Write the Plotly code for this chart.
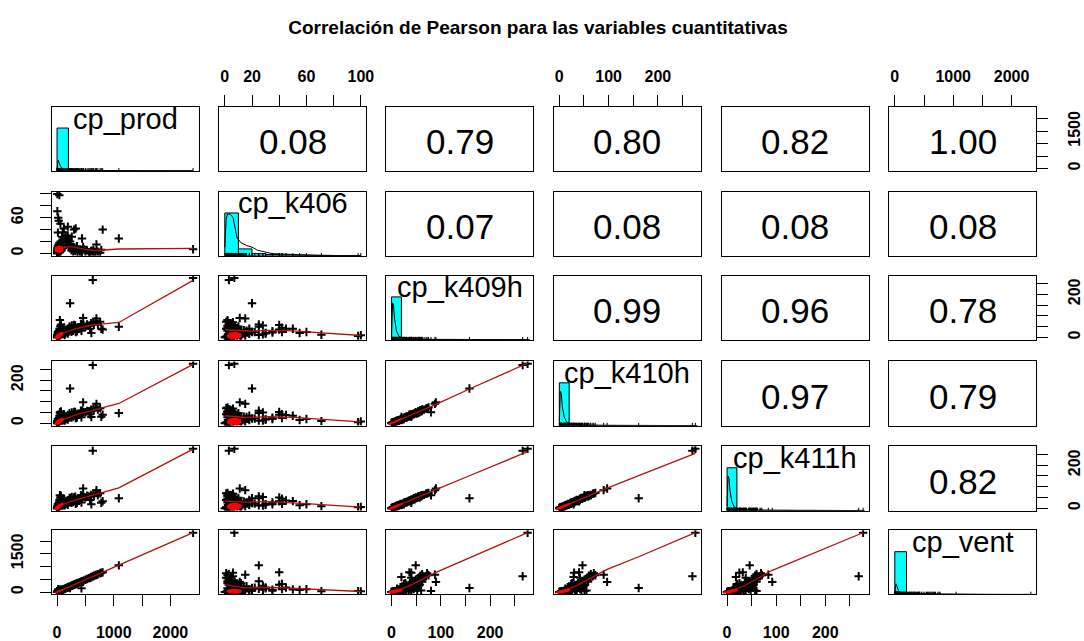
import numpy as np
import plotly.graph_objects as go

# ---------------------------------------------------------------------------
# Data: one list per variable, same record order in every list
# ---------------------------------------------------------------------------
var_names = ["cp_prod", "cp_k406", "cp_k409h", "cp_k410h", "cp_k411h", "cp_vent"]

cp_prod = [
    # low-volume records
    0, 2, 4, 5, 7, 8, 10, 12, 14, 15, 18, 20, 22, 24, 26, 28, 30, 33, 36, 40,
    43, 46, 50, 54, 58, 62, 66, 70, 75, 80,
    # medium records
    90, 100, 110, 120, 135, 150, 160, 175, 190, 205, 220, 240, 255, 270, 285,
    300, 320, 340, 360, 380, 400, 420, 440, 470, 500, 530, 560, 600, 640, 680,
    720, 760, 430, 190, 260, 350, 580, 650,
    # atypical records
    2400, 630, 230, 1090, 805, 780, 695, 460, 605, 5, 40, 5, 20, 30, 60, 300,
    330, 15, 440,
]
cp_k406 = [
    0, 1, 3, 6, 2, 9, 4, 1, 7, 12, 3, 5, 10, 2, 8, 15, 4, 6, 11, 3,
    18, 7, 2, 13, 5, 9, 20, 4, 14, 6,
    28, 35, 18, 42, 25, 30, 14, 22, 30, 12, 10, 16, 5, 10, 3,
    8, 4, 9, 2, 6, 3, 5, 2, 7, 3, 5, 2, 4, 6, 2,
    3, 1, 2, 45, 28, 12, 1, 3,
    7, 3, 20, 25, 40, 6, 15, 11, 4, 100, 98, 71, 60, 55, 50, 40,
    42, 35, 25,
]
cp_k409h = [
    0, 0, 1, 2, 1, 3, 2, 4, 3, 5, 4, 6, 14, 5, 22, 7, 9, 30, 8, 12,
    40, 10, 80, 15, 52, 18, 25, 60, 20, 35,
    14, 28, 16, 45, 11, 20, 33, 24, 18, 27, 50, 31, 26, 35, 30,
    38, 55, 42, 37, 46, 41, 62, 45, 55, 49, 60, 54, 66, 70, 75,
    62, 72, 30, 40, 55, 28, 40, 58,
    276, 266, 158, 49, 36, 40, 88, 90, 20, 10, 6, 12, 25, 20, 40, 57,
    25, 22, 60,
]
cp_k410h = [
    0, 1, 1, 1, 2, 2, 3, 3, 4, 4, 5, 5, 12, 6, 18, 6, 8, 25, 9, 11,
    35, 11, 51, 14, 45, 17, 22, 55, 21, 32,
    13, 26, 15, 42, 12, 18, 30, 22, 17, 25, 47, 29, 27, 33, 31,
    36, 52, 40, 38, 44, 42, 58, 46, 52, 51, 57, 56, 63, 68, 73,
    64, 70, 28, 38, 50, 26, 42, 60,
    276, 270, 161, 47, 40, 30, 90, 97, 29, 8, 5, 10, 20, 15, 35, 52,
    24, 20, 58,
]
cp_k411h = [
    0, 0, 1, 2, 1, 3, 2, 4, 3, 5, 4, 6, 13, 5, 20, 7, 9, 28, 8, 12,
    38, 10, 60, 15, 48, 18, 24, 57, 20, 34,
    12, 27, 14, 44, 13, 19, 31, 21, 16, 26, 48, 28, 25, 34, 29,
    37, 54, 39, 36, 45, 40, 60, 44, 53, 50, 58, 55, 62, 67, 71,
    60, 69, 26, 36, 52, 25, 38, 57,
    277, 268, 46, 46, 32, 25, 84, 92, 18, 6, 4, 9, 18, 14, 33, 50,
    20, 18, 55,
]
cp_vent = [
    0, 2, 4, 5, 7, 8, 10, 12, 13, 15, 17, 19, 21, 23, 25, 27, 29, 32, 35, 39,
    42, 45, 48, 52, 56, 60, 64, 68, 73, 78,
    88, 97, 106, 117, 131, 146, 155, 170, 185, 199, 214, 233, 247, 262, 277,
    291, 311, 330, 349, 369, 388, 408, 427, 456, 485, 514, 543, 582, 621, 660,
    698, 737, 150, 180, 250, 345, 560, 640,
    2330, 620, 160, 1050, 775, 760, 680, 400, 590, 30, 40, 35, 110, 80, 100, 290,
    320, 50, 425,
]

# Pearson coefficients, upper triangle read row by row
corr_upper = [0.08, 0.79, 0.80, 0.82, 1.00,
              0.07, 0.08, 0.08, 0.08,
              0.99, 0.96, 0.78,
              0.97, 0.79,
              0.82]

# Location / spread of each variable over the full sample (correlation ellipses)
var_mean = [35, 7, 8, 8, 8, 35]
var_sd = [70, 5, 14, 14, 14, 70]

# Histogram bin widths and relative bar heights (diagonal)
hist_width = [200, 10, 20, 20, 20, 200]
hist_prod = [1.0, 0.03, 0.015, 0.01, 0.006, 0.004, 0.002, 0.0, 0.0, 0.0, 0.0, 0.002]
hist_k406 = [1.0, 0.16, 0.05, 0.03, 0.02, 0.015, 0.01, 0.008, 0.004, 0.004]
hist_k409h = [1.0, 0.03, 0.012, 0.008, 0.004, 0.003, 0.002, 0.0, 0.002, 0.0, 0.0, 0.0, 0.0, 0.003]
hist_k410h = [1.0, 0.03, 0.012, 0.008, 0.004, 0.003, 0.002, 0.0, 0.002, 0.0, 0.0, 0.0, 0.0, 0.003]
hist_k411h = [1.0, 0.03, 0.012, 0.008, 0.004, 0.003, 0.002, 0.0, 0.002, 0.0, 0.0, 0.0, 0.0, 0.003]
hist_vent = [1.0, 0.03, 0.015, 0.01, 0.006, 0.004, 0.002, 0.0, 0.0, 0.0, 0.0, 0.002]

# Kernel density curves (relative scale)
dens_prod_x = [0, 10, 20, 40, 60, 100, 200, 400, 800, 1200, 2400]
dens_prod_y = [0.05, 0.2, 0.25, 0.18, 0.1, 0.04, 0.02, 0.01, 0.005, 0.002, 0.0]
dens_k406_x = [0, 1, 2, 4, 6, 8, 9, 12, 16, 20, 24, 28, 35, 50, 70, 100]
dens_k406_y = [0.2, 0.85, 0.98, 0.97, 0.9, 0.6, 0.42, 0.3, 0.24, 0.2, 0.13, 0.1, 0.05, 0.03, 0.01, 0.0]
dens_k409h_x = [0, 2, 4, 6, 10, 15, 20, 30, 50, 100, 276]
dens_k409h_y = [0.1, 0.86, 0.8, 0.5, 0.2, 0.08, 0.05, 0.03, 0.01, 0.005, 0.0]
dens_k410h_x = [0, 2, 4, 6, 10, 15, 20, 30, 50, 100, 276]
dens_k410h_y = [0.1, 0.8, 0.75, 0.45, 0.2, 0.08, 0.05, 0.03, 0.01, 0.005, 0.0]
dens_k411h_x = [0, 2, 4, 6, 10, 15, 20, 30, 50, 100, 277]
dens_k411h_y = [0.1, 0.8, 0.75, 0.45, 0.2, 0.08, 0.05, 0.03, 0.01, 0.005, 0.0]
dens_vent_x = [0, 10, 20, 40, 60, 100, 200, 400, 800, 1200, 2330]
dens_vent_y = [0.05, 0.2, 0.25, 0.18, 0.1, 0.04, 0.02, 0.01, 0.005, 0.002, 0.0]

# Axis ticks and their printed labels
tick_pos = [
    [0, 500, 1000, 1500, 2000],
    [0, 20, 40, 60, 80, 100],
    [0, 50, 100, 150, 200, 250],
    [0, 50, 100, 150, 200, 250],
    [0, 50, 100, 150, 200, 250],
    [0, 500, 1000, 1500, 2000],
]
tick_text_h = [
    ["0", "", "1000", "", "2000"],
    ["0", "20", "", "60", "", "100"],
    ["0", "", "100", "", "200", ""],
    ["0", "", "100", "", "200", ""],
    ["0", "", "100", "", "200", ""],
    ["0", "", "1000", "", "2000"],
]
tick_text_v = [
    ["0", "", "", "1500", ""],
    ["0", "", "", "60", "", ""],
    ["0", "", "", "", "200", ""],
    ["0", "", "", "", "200", ""],
    ["0", "", "", "", "200", ""],
    ["0", "", "", "1500", ""],
]

title_text = "Correlación de Pearson para las variables cuantitativas"

# ---------------------------------------------------------------------------
# Helpers
# ---------------------------------------------------------------------------
data = [np.asarray(v, float) for v in (cp_prod, cp_k406, cp_k409h, cp_k410h, cp_k411h, cp_vent)]
hists = [hist_prod, hist_k406, hist_k409h, hist_k410h, hist_k411h, hist_vent]
dens = [(dens_prod_x, dens_prod_y), (dens_k406_x, dens_k406_y), (dens_k409h_x, dens_k409h_y),
        (dens_k410h_x, dens_k410h_y), (dens_k411h_x, dens_k411h_y), (dens_vent_x, dens_vent_y)]
NV = len(var_names)

corr = np.eye(NV)
idx = 0
for i in range(NV):
    for j in range(i + 1, NV):
        corr[i, j] = corr[j, i] = corr_upper[idx]
        idx += 1


def data_range(v):
    lo, hi = float(np.min(v)), float(np.max(v))
    pad = 0.04 * (hi - lo)
    return [lo - pad, hi + pad]


def lowess(x, y, frac=0.85, iters=3):
    """Locally weighted linear smoother with bisquare robustness steps."""
    order = np.argsort(x, kind="mergesort")
    xs, ys = x[order], y[order]
    n = len(xs)
    r = int(np.ceil(frac * n))
    rw = np.ones(n)
    fit = ys.copy()
    for _ in range(iters + 1):
        for i in range(n):
            d = np.abs(xs - xs[i])
            h = max(np.sort(d)[r - 1], 1e-9)
            u = np.clip(d / h, 0, 1)
            w = (1 - u ** 3) ** 3 * rw
            sw = w.sum()
            if sw <= 0:
                fit[i] = ys[i]
                continue
            mx = (w * xs).sum() / sw
            my = (w * ys).sum() / sw
            vx = (w * (xs - mx) ** 2).sum()
            b = (w * (xs - mx) * (ys - my)).sum() / vx if vx > 1e-12 else 0.0
            fit[i] = my + b * (xs[i] - mx)
        res = ys - fit
        s = np.median(np.abs(res))
        if s <= 0:
            break
        u = np.clip(res / (6 * s), -1, 1)
        rw = (1 - u ** 2) ** 2
    return xs, fit


ranges = [data_range(v) for v in data]

W, H = 1084, 641
FONT = "Liberation Sans, Arial, sans-serif"
col_left = [52, 221, 389, 558, 727, 896]
row_top = [108, 194, 279, 366, 452, 537]
PW, PH = 148, 65

fig = go.Figure()
layout_axes = {}
annotations = []
tick_font = dict(family=FONT, size=16, color="black", weight="bold")


def ax_names(k):
    sfx = "" if k == 1 else str(k)
    return "xaxis" + sfx, "yaxis" + sfx, "x" + sfx, "y" + sfx


for i in range(NV):
    for j in range(NV):
        k = i * NV + j + 1
        xname, yname, xref, yref = ax_names(k)
        xd = [col_left[j] / W, (col_left[j] + PW) / W]
        yd = [1 - (row_top[i] + PH) / H, 1 - row_top[i] / H]
        base = dict(showgrid=False, zeroline=False, showline=True, mirror=True,
                    linecolor="black", linewidth=1, ticks="", showticklabels=False,
                    fixedrange=True)
        yr = ranges[i] if i != j else [0, 1.5]
        xa = dict(base, domain=xd, anchor=yref, range=ranges[j])
        ya = dict(base, domain=yd, anchor=xref, range=yr)

        tick_common = dict(ticks="outside", ticklen=11, tickwidth=1, tickcolor="black",
                           showticklabels=True, tickfont=tick_font)
        if i == 0 and j % 2 == 1:
            xa.update(tick_common, side="top", tickvals=tick_pos[j], ticktext=tick_text_h[j],
                      ticklabelstandoff=6)
        if i == NV - 1 and j % 2 == 0:
            xa.update(tick_common, side="bottom", tickvals=tick_pos[j], ticktext=tick_text_h[j],
                      ticklabelstandoff=12)
        if j == 0 and i % 2 == 1:
            ya.update(tick_common, side="left", tickvals=tick_pos[i], ticktext=tick_text_v[i],
                      tickangle=-90, ticklabelstandoff=10)
        if j == NV - 1 and i % 2 == 0:
            ya.update(tick_common, side="right", tickvals=tick_pos[i], ticktext=tick_text_v[i],
                      tickangle=-90, ticklabelstandoff=12)
        layout_axes[xname] = xa
        layout_axes[yname] = ya

        cx = (col_left[j] + PW / 2) / W
        if i == j:
            # histogram, density curve, rug and variable name
            hv = np.asarray(hists[i], float)
            wbin = hist_width[i]
            centers = wbin * (np.arange(len(hv)) + 0.5)
            fig.add_trace(go.Bar(x=centers, y=hv, width=wbin, xaxis=xref, yaxis=yref,
                                 marker=dict(color="#00FFFF", line=dict(color="black", width=1)),
                                 showlegend=False, hoverinfo="skip"))
            dx, dy = dens[i]
            fig.add_trace(go.Scatter(x=dx, y=dy, mode="lines", xaxis=xref, yaxis=yref,
                                     line=dict(color="black", width=1), showlegend=False,
                                     hoverinfo="skip"))
            fig.add_trace(go.Scatter(x=data[i], y=np.zeros(len(data[i])), mode="markers",
                                     xaxis=xref, yaxis=yref,
                                     marker=dict(symbol="line-ns", size=4,
                                                 line=dict(color="black", width=1)),
                                     showlegend=False, hoverinfo="skip"))
            annotations.append(dict(text=var_names[i], x=cx, y=1 - (row_top[i] + 12) / H,
                                    xref="paper", yref="paper", xanchor="center",
                                    yanchor="middle", showarrow=False,
                                    font=dict(family=FONT, size=29, color="black")))
        elif i < j:
            # empty panel holding the coefficient; an invisible point keeps the frame drawn
            fig.add_trace(go.Scatter(x=[np.mean(ranges[j])], y=[np.mean(yr)], mode="markers",
                                     xaxis=xref, yaxis=yref, marker=dict(opacity=0),
                                     showlegend=False, hoverinfo="skip"))
            annotations.append(dict(text=f"{corr[i, j]:.2f}", x=cx,
                                    y=1 - (row_top[i] + PH / 2 + 3) / H,
                                    xref="paper", yref="paper", xanchor="center",
                                    yanchor="middle", showarrow=False,
                                    font=dict(family=FONT, size=35, color="black")))
        else:
            x, y = data[j], data[i]
            fig.add_trace(go.Scatter(x=x, y=y, mode="markers", xaxis=xref, yaxis=yref,
                                     marker=dict(symbol="cross-thin", size=6,
                                                 line=dict(color="black", width=2)),
                                     showlegend=False, hoverinfo="skip"))
            sx, sy = lowess(x, y)
            fig.add_trace(go.Scatter(x=sx, y=sy, mode="lines", xaxis=xref, yaxis=yref,
                                     line=dict(color="#B01010", width=1.3),
                                     showlegend=False, hoverinfo="skip"))
            t = np.linspace(0, 2 * np.pi, 60)
            r = np.clip(corr[i, j], -1, 1)
            ex = var_mean[j] + var_sd[j] * np.cos(t)
            ey = var_mean[i] + var_sd[i] * np.cos(t + np.arccos(r))
            fig.add_trace(go.Scatter(x=ex, y=ey, mode="lines", fill="toself", xaxis=xref,
                                     yaxis=yref, fillcolor="red",
                                     line=dict(color="red", width=1.5),
                                     showlegend=False, hoverinfo="skip"))

fig.update_layout(
    width=W, height=H, autosize=False,
    margin=dict(l=0, r=0, t=0, b=0),
    paper_bgcolor="white", plot_bgcolor="white",
    title=dict(text=title_text, x=538 / W, y=1 - 27 / H, xanchor="center", yanchor="middle",
               font=dict(family=FONT, size=19, color="black", weight="bold")),
    annotations=annotations,
    showlegend=False,
    **layout_axes,
)

fig.write_html("out.html", config={"responsive": False, "displayModeBar": False})
